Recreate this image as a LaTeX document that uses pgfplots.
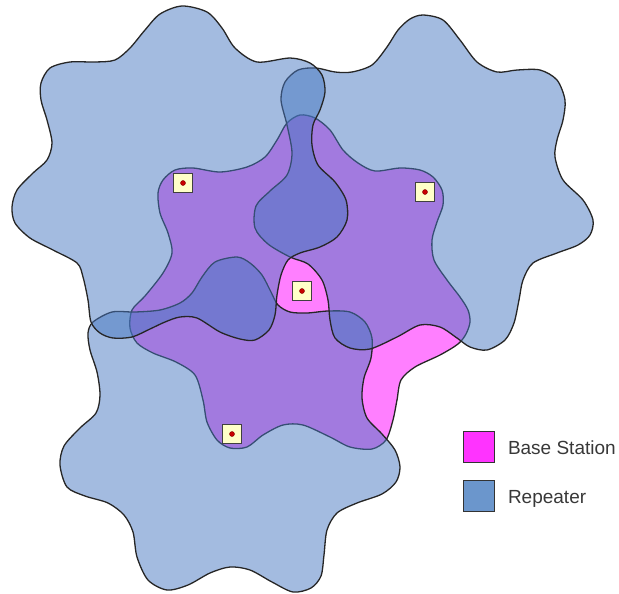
\documentclass[border=0pt]{standalone}
\usepackage{fontspec}
\setmainfont{Liberation Sans}
\usepackage{pgfplots}
\pgfplotsset{compat=1.18}
\definecolor{bsM}{RGB}{255,0,255}
\definecolor{rpB}{RGB}{71,119,193}
\definecolor{legM}{RGB}{255,51,255}
\definecolor{legB}{RGB}{107,150,204}
\definecolor{sqfill}{RGB}{255,255,200}
\definecolor{dotred}{RGB}{200,0,0}
\begin{document}
\begin{tikzpicture}
\begin{axis}[
  scale only axis, width=619pt, height=593pt,
  xmin=0, xmax=619, ymin=0, ymax=593, y dir=reverse,
  hide axis, clip=false,
  legend style={at={(axis cs:463,431)}, anchor=north west, draw=none, fill=none,
    inner sep=0pt, outer sep=0pt, row sep=17pt,
    font=\fontsize{19}{23}\selectfont, text=black!78,
    nodes={inner sep=0pt},
    /tikz/every odd column/.append style={column sep=13pt}},
  legend cell align=left,
  legend image code/.code={\draw[#1] (0pt,-14pt) rectangle (31pt,17pt);},
]
\addplot[draw=none, forget plot] coordinates {(0,0) (619,593)};
% Base station coverage
\addplot[smooth cycle, fill=bsM, fill opacity=0.5, draw=black!85, line width=1.3pt, forget plot] coordinates {
(300,115) (315,118) (330,130) (343,150) (358,163) (375,171) (400,168) (420,170) (433,177) (442,190) (443,205) (437,222) (432,240) (434,260) (447,280) (460,297) (468,310) (470,322) (466,334) (458,344) (440,355) (415,367) (401,380) (397,400) (393,420) (386,440) (372,449) (350,447) (330,437) (303,425) (283,425) (263,435) (247,447) (230,448) (217,440) (207,422) (203,400) (195,375) (176,362) (153,353) (137,343) (130,328) (132,310) (145,296) (163,273) (172,253) (168,233) (160,213) (158,193) (163,180) (175,170) (193,168) (220,172) (247,167) (265,157) (277,140) (287,123)
};
% Bottom repeater
\addplot[smooth cycle, fill=rpB, fill opacity=0.5, draw=black!85, line width=1.3pt, forget plot] coordinates {
(237,257) (250,263) (262,275) (271,292) (278,305) (290,312) (307,313) (328,311) (350,312) (365,322) (372,338) (371,358) (364,378) (362,398) (367,418) (382,434) (395,450) (400,467) (396,482) (382,494) (357,503) (337,513) (327,530) (324,555) (321,576) (311,588) (293,592) (272,582) (250,570) (230,567) (210,573) (188,585) (167,590) (148,580) (137,557) (133,532) (124,515) (108,503) (85,496) (67,487) (60,465) (64,446) (80,428) (96,413) (100,395) (97,372) (90,350) (88,333) (93,322) (112,312) (135,312) (160,310) (180,303) (192,293) (202,277) (215,262)
};
% Top-right repeater
\addplot[smooth cycle, fill=rpB, fill opacity=0.5, draw=black!85, line width=1.3pt, forget plot] coordinates {
(423,15) (443,20) (460,40) (477,62) (497,72) (517,70) (540,70) (557,80) (565,100) (563,120) (557,140) (555,157) (563,180) (583,200) (593,220) (590,235) (578,245) (557,253) (533,263) (523,280) (519,300) (514,323) (505,340) (487,350) (470,347) (457,338) (440,327) (420,325) (397,337) (370,349) (350,348) (335,338) (330,320) (328,300) (322,280) (308,264) (290,257) (268,244) (255,228) (256,206) (270,191) (287,175) (292,153) (287,125) (281,100) (285,82) (298,70) (316,68) (335,72) (352,72) (372,65) (387,47) (398,30) (410,19)
};
% Top-left repeater
\addplot[smooth cycle, fill=rpB, fill opacity=0.5, draw=black!85, line width=1.3pt, forget plot] coordinates {
(182,6) (207,12) (222,28) (235,48) (257,62) (290,58) (310,63) (322,75) (325,92) (320,110) (313,125) (312,145) (318,165) (335,182) (346,200) (347,220) (337,237) (320,247) (300,253) (288,260) (281,275) (277,295) (275,315) (269,330) (255,340) (240,339) (220,332) (197,318) (180,317) (165,322) (150,329) (132,337) (113,338) (100,333) (91,322) (88,300) (83,277) (77,263) (53,250) (30,238) (15,223) (12,207) (17,190) (33,173) (47,160) (52,143) (47,120) (41,100) (41,83) (50,68) (70,62) (95,62) (115,60) (130,48) (145,30) (160,14)
};
% Station markers
\addplot[only marks, mark=square*, mark size=9.5pt, mark options={fill=sqfill, draw=black!75, line width=1.2pt}, forget plot] coordinates {(183,183) (425,192) (302,291) (232,434)};
\addplot[only marks, mark=*, mark size=2.5pt, mark options={fill=dotred, draw=black!50!red, line width=0.4pt}, forget plot] coordinates {(183,183) (425,192) (302,291) (232,434)};
\addlegendimage{fill=legM, draw=black!80, line width=1pt}
\addlegendentry{Base Station}
\addlegendimage{fill=legB, draw=black!80, line width=1pt}
\addlegendentry{Repeater}
\end{axis}
\end{tikzpicture}
\end{document}
